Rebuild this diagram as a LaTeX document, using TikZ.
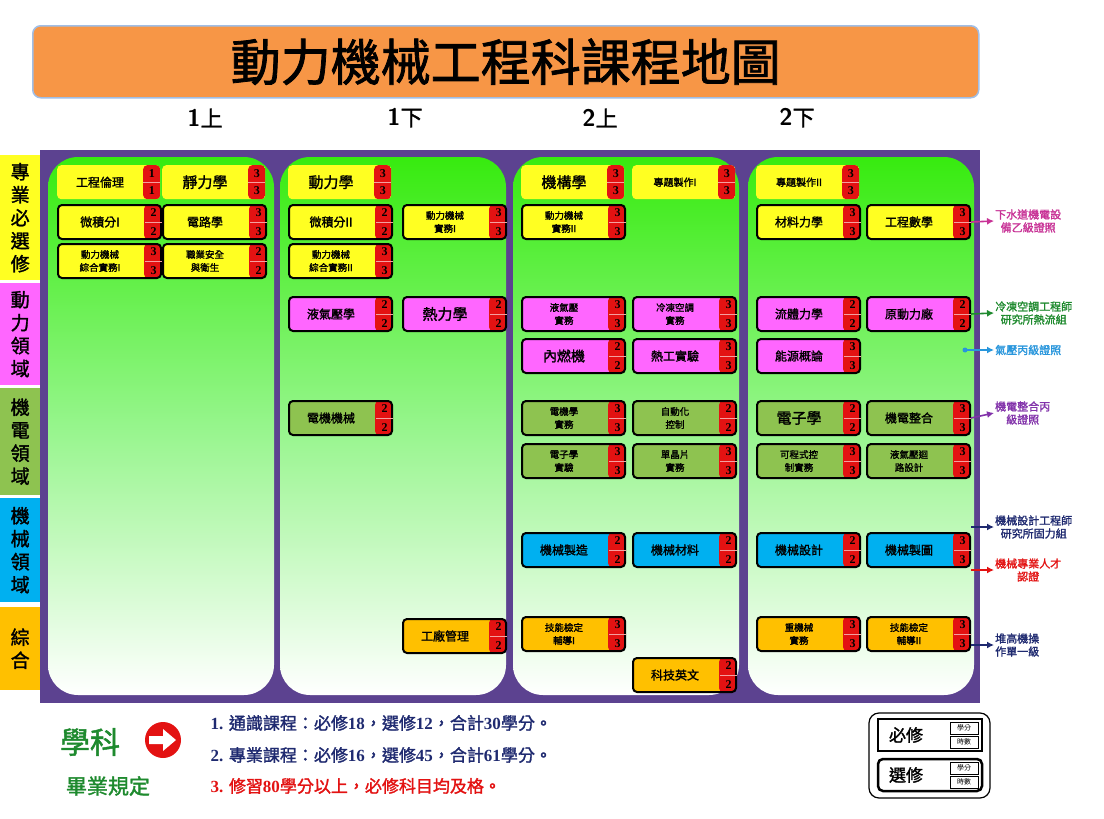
\documentclass[tikz,border=0pt]{standalone}
\usepackage{fontspec}
\usetikzlibrary{calc,arrows.meta}
\newfontfamily\cjk{Noto Sans CJK TC}[AutoFakeBold=1.6]
\setmainfont{Liberation Serif}
\definecolor{yel}{HTML}{FFFF22}
\definecolor{mag}{HTML}{FF66FF}
\definecolor{grn}{HTML}{8EC350}
\definecolor{blu}{HTML}{00B0F0}
\definecolor{org}{HTML}{FFC000}
\definecolor{credred}{HTML}{E31212}
\definecolor{panel}{HTML}{5C4290}
\definecolor{titleorg}{HTML}{F79646}
\definecolor{navy}{HTML}{1F2A70}
\definecolor{darkgrn}{HTML}{1E8A2E}
\definecolor{pinkn}{HTML}{C83296}
\definecolor{cyann}{HTML}{2896DC}
\definecolor{violn}{HTML}{8232AA}
\definecolor{titleedge}{HTML}{A0BEE6}
\definecolor{coltop}{HTML}{37EB0F}
\definecolor{colmid}{HTML}{96F58C}
\tikzset{
 course/.style={anchor=north west,minimum width=103pt,minimum height=34pt,
   rounded corners=4pt,inner sep=0pt,
   path picture={\fill[credred] ([xshift=-17pt]path picture bounding box.north east)
     rectangle (path picture bounding box.south east);}},
 bordered/.style={draw=black,line width=2pt},
 plain/.style={},
 lbl/.style={font=\cjk\bfseries\fontsize{12}{13}\selectfont,align=center,inner sep=0pt},
 cred/.style={font=\bfseries\fontsize{12}{12}\selectfont,inner sep=0pt},
 note/.style={font=\cjk\bfseries\fontsize{11}{13}\selectfont,align=center,anchor=west,inner sep=1pt},
 link/.style={-{Latex[length=7pt,width=7pt]},line width=1.6pt},
 side/.style={anchor=north west,minimum width=40pt,inner sep=0pt,align=center,
   font=\cjk\bfseries\fontsize{19}{23}\selectfont},
 column/.style={top color=coltop,bottom color=white,middle color=colmid,rounded corners=30pt},
 head/.style={font=\sffamily\bfseries\fontsize{24}{24}\selectfont},
}
\newcommand\two[2]{\fontsize{9.5}{11}\selectfont #1\\\fontsize{9.5}{11}\selectfont #2}
\newcommand\course[8][bordered]{%
 \node[course,#1,fill=#5] (#2) at (#3,#4) {};
 \draw[white!60!credred] ($(#2.east)+(-17,0)$) -- (#2.east);
 \node[lbl] at ($(#2.west)+(43,0)$) {#6};
 \node[cred] at ($(#2.north east)+(-8.5,8.5)$) {#7};
 \node[cred] at ($(#2.south east)+(-8.5,-8.5)$) {#8};
}
\begin{document}
\begin{tikzpicture}[x=1pt,y=-1pt]
\useasboundingbox[fill=white] (0,0) rectangle (1104,819);
% title
\node[draw=titleedge,line width=1.5pt,fill=titleorg,rounded corners=8pt,
  minimum width=946pt,minimum height=72pt,anchor=north west,
  font=\cjk\bfseries\fontsize{50}{50}\selectfont] (title) at (32,25) {動力機械工程科課程地圖};
\foreach \x/\n/\t in {205/1/上,405/1/下,600/2/上,797/2/下}
 \node[head] at (\x,118) {\n{\cjk\fontsize{22}{22}\selectfont\t}};
% sidebar
\node[side,fill=yel,minimum height=125pt] (s1) at (0,155) {專\\業\\必\\選\\修};
\node[side,fill=mag,minimum height=102pt] (s2) at (0,283) {動\\力\\領\\域};
\node[side,fill=grn,minimum height=107pt] (s3) at (0,388) {機\\電\\領\\域};
\node[side,fill=blu,minimum height=104pt] (s4) at (0,498) {機\\械\\領\\域};
\node[side,fill=org,minimum height=83pt] (s5) at (0,607) {綜\\合};
% panel and columns
\fill[panel] (40,150) rectangle (980,703);
\foreach \x in {48,280,513,748}
 \shade[column] (\x,157) rectangle ++(226,538);
% col 1
\course[plain]{eth}{57}{165}{yel}{工程倫理}{1}{1}
\course[plain]{sta}{162}{165}{yel}{\fontsize{15}{15}\selectfont 靜力學}{3}{3}
\course{calA}{57}{204}{yel}{微積分I}{2}{2}
\course{cir}{162}{204}{yel}{電路學}{3}{3}
\course{prA}{57}{243}{yel}{\two{動力機械}{綜合實務I}}{3}{3}
\course{saf}{162}{243}{yel}{\two{職業安全}{與衛生}}{2}{2}
% col 2
\course[plain]{dyn}{288}{165}{yel}{\fontsize{15}{15}\selectfont 動力學}{3}{3}
\course{calB}{288}{204}{yel}{微積分II}{2}{2}
\course{pmA}{402}{204}{yel}{\two{動力機械}{實務I}}{3}{3}
\course{prB}{288}{243}{yel}{\two{動力機械}{綜合實務II}}{3}{3}
\course{flu}{288}{296}{mag}{液氣壓學}{2}{2}
\course{thr}{402}{296}{mag}{\fontsize{15}{15}\selectfont 熱力學}{2}{2}
\course{emc}{288}{400}{grn}{電機機械}{2}{2}
\course{fac}{402}{618}{org}{工廠管理}{2}{2}
% col 3
\course[plain]{mec}{521}{165}{yel}{\fontsize{15}{15}\selectfont 機構學}{3}{3}
\course[plain]{prjA}{632}{165}{yel}{\fontsize{10}{10}\selectfont 專題製作I}{3}{3}
\course{pmB}{521}{204}{yel}{\two{動力機械}{實務II}}{3}{3}
\course{flp}{521}{296}{mag}{\two{液氣壓}{實務}}{3}{3}
\course{hvp}{632}{296}{mag}{\two{冷凍空調}{實務}}{3}{3}
\course{ice}{521}{338}{mag}{\fontsize{14}{14}\selectfont 內燃機}{2}{2}
\course{htl}{632}{338}{mag}{熱工實驗}{3}{3}
\course{emp}{521}{400}{grn}{\two{電機學}{實務}}{3}{3}
\course{aut}{632}{400}{grn}{\two{自動化}{控制}}{2}{2}
\course{elx}{521}{443}{grn}{\two{電子學}{實驗}}{3}{3}
\course{mcu}{632}{443}{grn}{\two{單晶片}{實務}}{3}{3}
\course{mfg}{521}{532}{blu}{機械製造}{2}{2}
\course{mat}{632}{532}{blu}{機械材料}{2}{2}
\course{skA}{521}{616}{org}{\two{技能檢定}{輔導I}}{3}{3}
\course{eng}{632}{657}{org}{科技英文}{2}{2}
% col 4
\course[plain]{prjB}{756}{165}{yel}{\fontsize{10}{10}\selectfont 專題製作II}{3}{3}
\course{som}{756}{204}{yel}{材料力學}{3}{3}
\course{emt}{866}{204}{yel}{工程數學}{3}{3}
\course{fdm}{756}{296}{mag}{流體力學}{2}{2}
\course{pwp}{866}{296}{mag}{原動力廠}{2}{2}
\course{ene}{756}{338}{mag}{能源概論}{3}{3}
\course{elc}{756}{400}{grn}{\fontsize{15}{15}\selectfont 電子學}{2}{2}
\course{mtr}{866}{400}{grn}{機電整合}{3}{3}
\course{plc}{756}{443}{grn}{\two{可程式控}{制實務}}{3}{3}
\course{fcd}{866}{443}{grn}{\two{液氣壓迴}{路設計}}{3}{3}
\course{mds}{756}{532}{blu}{機械設計}{2}{2}
\course{drw}{866}{532}{blu}{機械製圖}{3}{3}
\course{hvy}{756}{616}{org}{\two{重機械}{實務}}{3}{3}
\course{skB}{866}{616}{org}{\two{技能檢定}{輔導II}}{3}{3}
% notes
\node[note,text=pinkn] (n1) at (994,221) {下水道機電設\\備乙級證照};
\node[note,text=darkgrn] (n2) at (994,313) {冷凍空調工程師\\研究所熱流組};
\node[note,text=cyann] (n3) at (994,350) {氣壓丙級證照};
\node[note,text=violn] (n4) at (994,413) {機電整合丙\\級證照};
\node[note,text=navy] (n5) at (994,527) {機械設計工程師\\研究所固力組};
\node[note,text=credred] (n6) at (994,570) {機械專業人才\\認證};
\node[note,text=navy] (n7) at (994,645) {堆高機操\\作單一級};
\draw[link,pinkn] (emt.east) -- (n1.west);
\draw[link,darkgrn] (pwp.east) -- (n2.west);
\coordinate (dot) at (965,350);
\fill[cyann] (dot) circle (2.5pt);
\draw[link,cyann] (dot) -- (n3.west);
\draw[link,violn] (mtr.east) -- (n4.west);
\draw[link,navy] (drw.east |- n5.west) -- (n5.west);
\draw[link,credred] (drw.east |- n6.west) -- (n6.west);
\draw[link,navy] (skB.east |- n7.west) -- (n7.west);
% rules
\node[font=\cjk\bfseries\fontsize{30}{30}\selectfont,text=darkgrn] (subj) at (90,742) {學科};
\node[font=\cjk\bfseries\fontsize{21}{21}\selectfont,text=darkgrn] (grad) at (108,786) {畢業規定};
\fill[credred] (163,740) circle (18);
\fill[white] (149,736) -- (163,736) -- (163,729) -- (176,740) -- (163,751) -- (163,744) -- (149,744) -- cycle;
\begin{scope}[every node/.style={anchor=west,font=\bfseries\fontsize{17}{17}\selectfont}]
\node[text=navy] (r1) at (207,723) {1. {\cjk 通識課程：必修}18{\cjk ，選修}12{\cjk ，合計}30{\cjk 學分。}};
\node[text=navy] (r2) at (207,755) {2. {\cjk 專業課程：必修}16{\cjk ，選修}45{\cjk ，合計}61{\cjk 學分。}};
\node[text=credred] (r3) at (207,786) {3. {\cjk 修習}80{\cjk 學分以上，必修科目均及格。}};
\end{scope}
% legend
\draw[line width=1.2pt,rounded corners=10pt] (869,713) rectangle (990,798);
\foreach \y/\t/\r in {719/必修/0pt,759/選修/5pt} {
 \draw[line width=2.5pt,rounded corners=\r] (878,\y) rectangle (982,\y+32);
 \node[font=\cjk\bfseries\fontsize{17}{17}\selectfont] at (906,\y+16) {\t};
 \draw[line width=1pt] (950,\y+3) rectangle (978,\y+15);
 \draw[line width=1pt] (950,\y+17) rectangle (978,\y+29);
 \node[font=\cjk\fontsize{7}{7}\selectfont] at (964,\y+9) {學分};
 \node[font=\cjk\fontsize{7}{7}\selectfont] at (964,\y+23) {時數};
}
\end{tikzpicture}
\end{document}
